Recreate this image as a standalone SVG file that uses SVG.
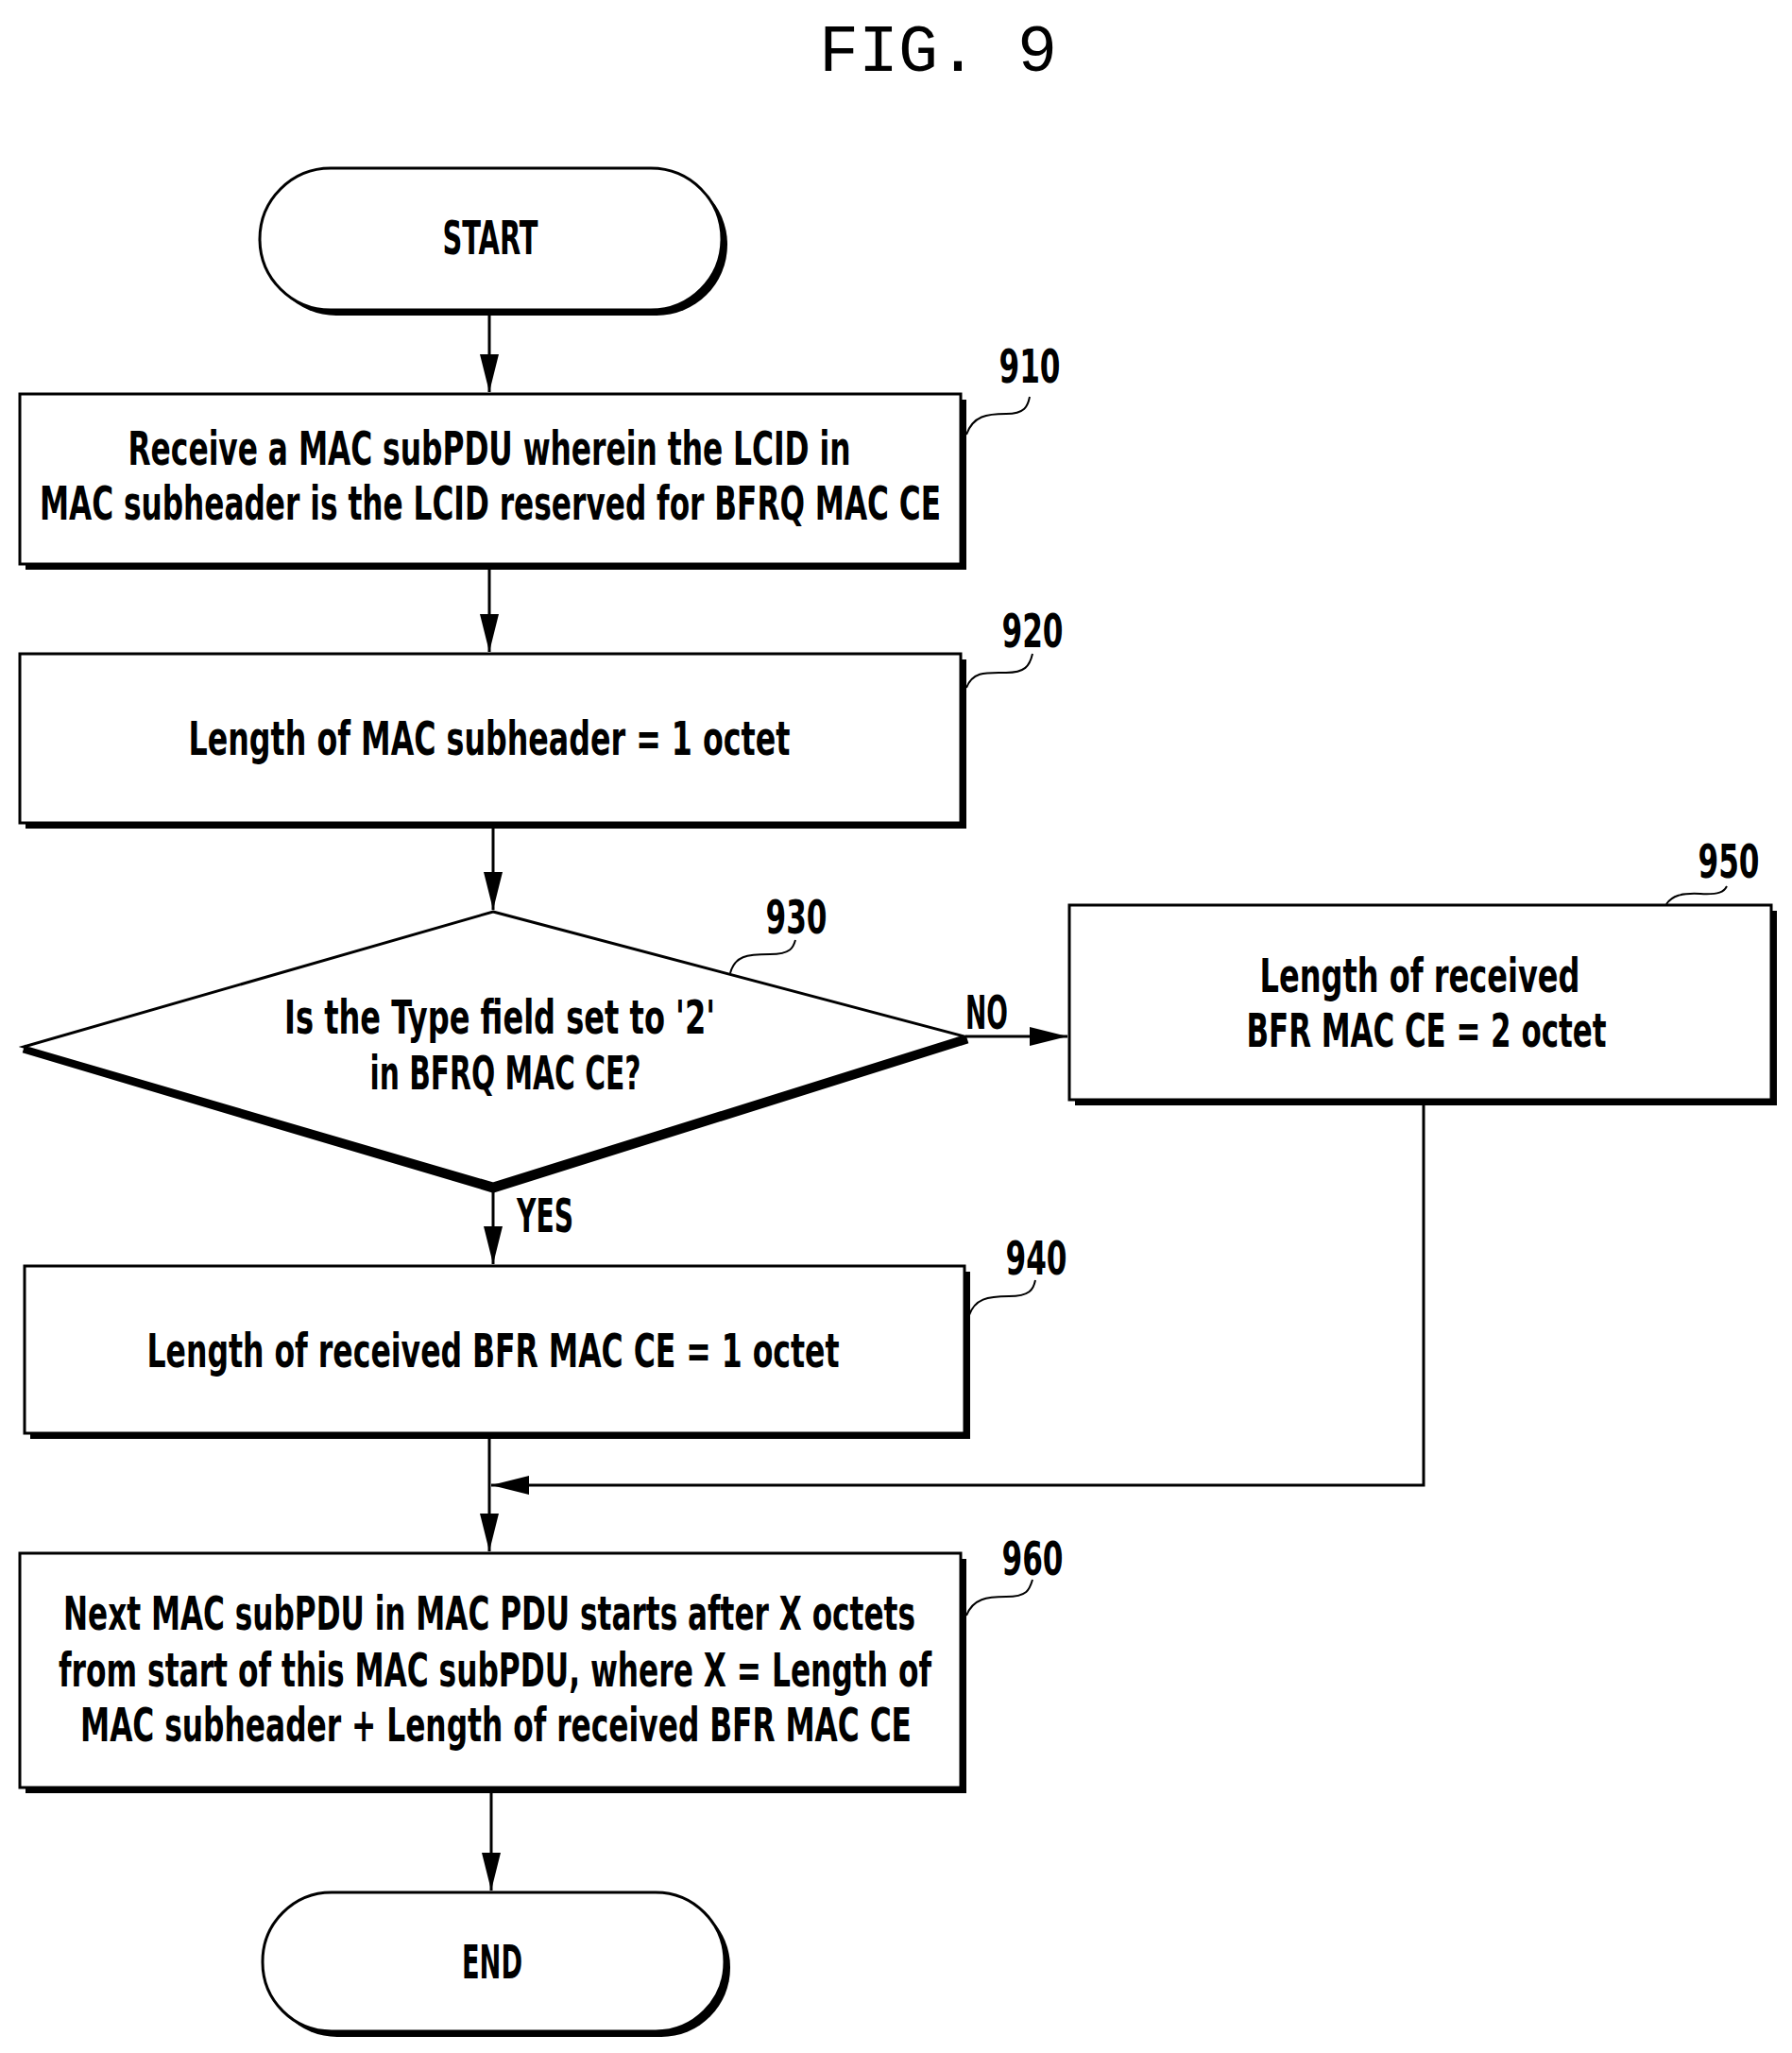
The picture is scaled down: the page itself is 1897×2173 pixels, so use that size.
<svg xmlns="http://www.w3.org/2000/svg" width="1897" height="2173" viewBox="0 0 1897 2173">
<style>
.t{font-family:"DejaVu Sans Condensed","DejaVu Sans",sans-serif;font-weight:bold;font-size:50px;fill:#000}
.b{fill:#fff;stroke:#000;stroke-width:3}
.s{fill:#000}
.c{fill:none;stroke:#000;stroke-width:3}
.l{fill:none;stroke:#000;stroke-width:2}
</style>
<defs><marker id="a" markerWidth="12" markerHeight="12" refX="11" refY="6" orient="auto" markerUnits="userSpaceOnUse" viewBox="0 0 12 12"><path d="M0,0 L12,6 L0,12 z" fill="#000"/></marker>
<marker id="ah" markerWidth="40" markerHeight="20" refX="40" refY="10" orient="auto" markerUnits="userSpaceOnUse"><path d="M0,0 L40,10 L0,20 z" fill="#000"/></marker></defs>
<rect width="1897" height="2173" fill="#fff"/>
<text x="993" y="75" text-anchor="middle" style="font-family:'Liberation Mono',monospace;font-size:70px">FIG. 9</text>
<g id="connectors">
<line class="c" x1="518" y1="330" x2="518" y2="415" marker-end="url(#ah)"/>
<line class="c" x1="518" y1="600" x2="518" y2="690" marker-end="url(#ah)"/>
<line class="c" x1="522" y1="876" x2="522" y2="963" marker-end="url(#ah)"/>
<line class="c" x1="1022" y1="1097" x2="1130" y2="1097" marker-end="url(#ah)"/>
<line class="c" x1="522" y1="1255" x2="522" y2="1338" marker-end="url(#ah)"/>
<polyline class="c" points="1507,1170 1507,1572 520,1572" marker-end="url(#ah)"/>
<line class="c" x1="518" y1="1522" x2="518" y2="1642" marker-end="url(#ah)"/>
<line class="c" x1="520" y1="1897" x2="520" y2="2001" marker-end="url(#ah)"/>
<text class="t" x="1022" y="1089" textLength="45" lengthAdjust="spacingAndGlyphs">NO</text>
<text class="t" x="547" y="1304" textLength="60" lengthAdjust="spacingAndGlyphs">YES</text>
</g>
<g id="start">
<rect class="s" x="281" y="184" width="489" height="150" rx="75"/>
<rect class="b" x="275" y="178" width="489" height="150" rx="75"/>
<text class="t" x="519" y="269" text-anchor="middle" textLength="101" lengthAdjust="spacingAndGlyphs">START</text>
</g>
<g id="n910">
<rect class="s" x="27" y="423" width="996" height="180"/>
<rect class="b" x="21" y="417" width="996" height="180"/>
<text class="t" x="518" y="492" text-anchor="middle" textLength="765" lengthAdjust="spacingAndGlyphs">Receive a MAC subPDU wherein the LCID in</text>
<text class="t" x="519" y="550" text-anchor="middle" textLength="954" lengthAdjust="spacingAndGlyphs">MAC subheader is the LCID reserved for BFRQ MAC CE</text>
<path class="l" d="M1023,460 C1030,440 1045,438 1065,438 C1085,438 1088,430 1090,420"/>
<text class="t" x="1090" y="405" text-anchor="middle" textLength="65" lengthAdjust="spacingAndGlyphs">910</text>
</g>
<g id="n920">
<rect class="s" x="27" y="698" width="996" height="179"/>
<rect class="b" x="21" y="692" width="996" height="179"/>
<text class="t" x="518" y="799" text-anchor="middle" textLength="637" lengthAdjust="spacingAndGlyphs">Length of MAC subheader = 1 octet</text>
<path class="l" d="M1023,728 C1030,710 1045,712 1065,712 C1085,712 1090,705 1093,692"/>
<text class="t" x="1093" y="685" text-anchor="middle" textLength="65" lengthAdjust="spacingAndGlyphs">920</text>
</g>
<g id="n930">
<polyline points="25,1110 522,1258 1024,1100" fill="none" stroke="#000" stroke-width="9"/>
<polygon class="b" points="522,965 1021,1097 522,1253 25,1108"/>
<text class="t" x="529" y="1094" text-anchor="middle" textLength="456" lengthAdjust="spacingAndGlyphs">Is the Type field set to '2'</text>
<text class="t" x="535" y="1153" text-anchor="middle" textLength="287" lengthAdjust="spacingAndGlyphs">in BFRQ MAC CE?</text>
<path class="l" d="M773,1030 C778,1012 790,1010 815,1010 C838,1010 840,1002 842,995"/>
<text class="t" x="843" y="988" text-anchor="middle" textLength="65" lengthAdjust="spacingAndGlyphs">930</text>
</g>
<g id="n950">
<rect class="s" x="1138" y="964" width="743" height="206"/>
<rect class="b" x="1132" y="958" width="743" height="206"/>
<text class="t" x="1503" y="1050" text-anchor="middle" textLength="339" lengthAdjust="spacingAndGlyphs">Length of received</text>
<text class="t" x="1510" y="1108" text-anchor="middle" textLength="381" lengthAdjust="spacingAndGlyphs">BFR MAC CE = 2 octet</text>
<path class="l" d="M1764,957 C1770,948 1780,945 1800,946 C1820,947 1825,944 1828,938"/>
<text class="t" x="1830" y="929" text-anchor="middle" textLength="65" lengthAdjust="spacingAndGlyphs">950</text>
</g>
<g id="n940">
<rect class="s" x="32" y="1346" width="995" height="177"/>
<rect class="b" x="26" y="1340" width="995" height="177"/>
<text class="t" x="522" y="1447" text-anchor="middle" textLength="733" lengthAdjust="spacingAndGlyphs">Length of received BFR MAC CE = 1 octet</text>
<path class="l" d="M1026,1392 C1032,1375 1045,1372 1068,1372 C1090,1372 1094,1365 1096,1355"/>
<text class="t" x="1097" y="1349" text-anchor="middle" textLength="65" lengthAdjust="spacingAndGlyphs">940</text>
</g>
<g id="n960">
<rect class="s" x="27" y="1650" width="996" height="248"/>
<rect class="b" x="21" y="1644" width="996" height="248"/>
<text class="t" x="518" y="1725" text-anchor="middle" textLength="902" lengthAdjust="spacingAndGlyphs">Next MAC subPDU in MAC PDU starts after X octets</text>
<text class="t" x="524" y="1785" text-anchor="middle" textLength="924" lengthAdjust="spacingAndGlyphs">from start of this MAC subPDU, where X = Length of</text>
<text class="t" x="525" y="1843" text-anchor="middle" textLength="880" lengthAdjust="spacingAndGlyphs">MAC subheader + Length of received BFR MAC CE</text>
<path class="l" d="M1023,1710 C1030,1692 1045,1690 1065,1690 C1088,1690 1090,1682 1093,1672"/>
<text class="t" x="1093" y="1667" text-anchor="middle" textLength="65" lengthAdjust="spacingAndGlyphs">960</text>
</g>
<g id="end">
<rect class="s" x="284" y="2009" width="489" height="147" rx="73"/>
<rect class="b" x="278" y="2003" width="489" height="147" rx="73"/>
<text class="t" x="521" y="2094" text-anchor="middle" textLength="64" lengthAdjust="spacingAndGlyphs">END</text>
</g>
</svg>
